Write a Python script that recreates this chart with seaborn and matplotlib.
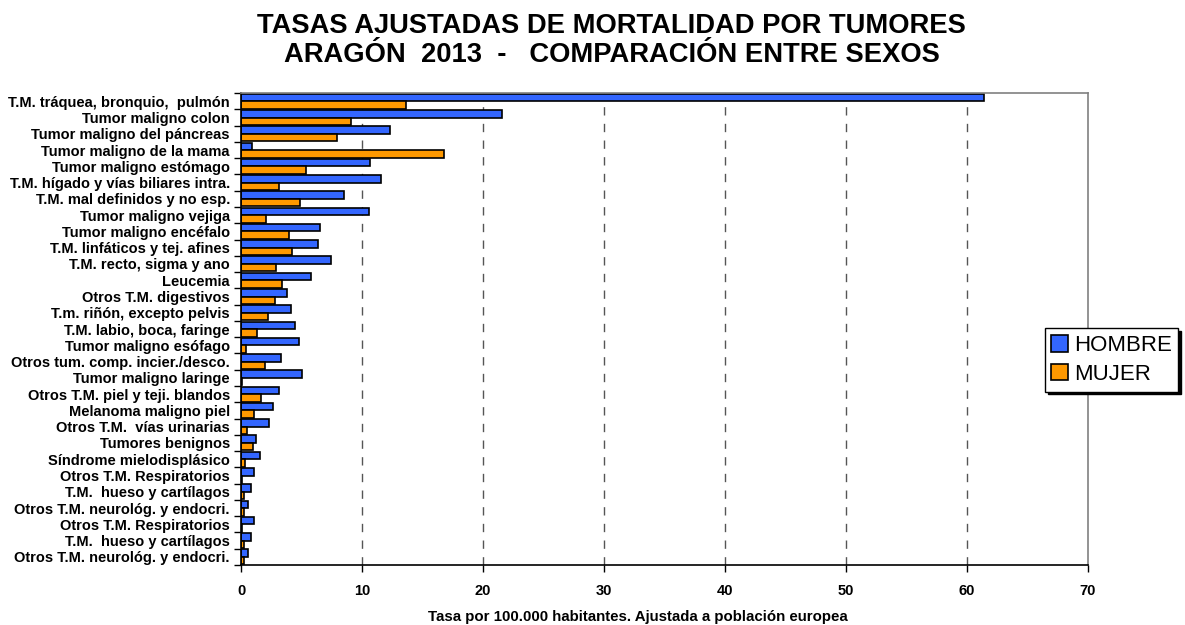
import matplotlib
matplotlib.use("Agg")
import matplotlib.pyplot as plt
import seaborn as sns
import pandas as pd
import numpy as np

causas = [
    "T.M. tráquea, bronquio,  pulmón",
    "Tumor maligno colon",
    "Tumor maligno del páncreas",
    "Tumor maligno de la mama",
    "Tumor maligno estómago",
    "T.M. hígado y vías biliares intra.",
    "T.M. mal definidos y no esp.",
    "Tumor maligno vejiga",
    "Tumor maligno encéfalo",
    "T.M. linfáticos y tej. afines",
    "T.M. recto, sigma y ano",
    "Leucemia",
    "Otros T.M. digestivos",
    "T.m. riñón, excepto pelvis",
    "T.M. labio, boca, faringe",
    "Tumor maligno esófago",
    "Otros tum. comp. incier./desco.",
    "Tumor maligno laringe",
    "Otros T.M. piel y teji. blandos",
    "Melanoma maligno piel",
    "Otros T.M.  vías urinarias",
    "Tumores benignos",
    "Síndrome mielodisplásico",
    "Otros T.M. Respiratorios",
    "T.M.  hueso y cartílagos",
    "Otros T.M. neurológ. y endocri.",
    "Otros T.M. Respiratorios",
    "T.M.  hueso y cartílagos",
    "Otros T.M. neurológ. y endocri.",
]
hombre = [61.4, 21.6, 12.3, 0.9, 10.7, 11.55, 8.5, 10.6, 6.5, 6.4, 7.4, 5.8, 3.8,
          4.1, 4.5, 4.8, 3.3, 5.0, 3.15, 2.65, 2.35, 1.2, 1.6, 1.05, 0.85, 0.6,
          1.05, 0.85, 0.6]
mujer = [13.6, 9.1, 7.9, 16.8, 5.35, 3.1, 4.9, 2.1, 4.0, 4.25, 2.9, 3.4, 2.8,
         2.25, 1.3, 0.45, 2.0, 0.08, 1.65, 1.1, 0.5, 1.0, 0.3, 0.05, 0.22, 0.22,
         0.05, 0.22, 0.22]
sexos = ["HOMBRE", "MUJER"]
colores = ["#3366FF", "#FF9900"]

# long format, index as category because some names repeat
df = pd.DataFrame({
    "pos": list(range(len(causas))) * 2,
    "tasa": hombre + mujer,
    "sexo": ["HOMBRE"] * len(causas) + ["MUJER"] * len(causas),
})

sns.set_style("white")
plt.rcParams["font.family"] = ["Liberation Sans", "DejaVu Sans"]
plt.rcParams["text.color"] = "black"
plt.rcParams["xtick.color"] = "black"
plt.rcParams["ytick.color"] = "black"
plt.rcParams["axes.labelcolor"] = "black"

fig = plt.figure(figsize=(11.85, 6.25), dpi=100)
ax = fig.add_axes([0.2034, 0.096, 0.7146, 0.755])

sns.barplot(data=df, y="pos", x="tasa", hue="sexo", orient="y", order=list(range(len(causas))),
            hue_order=sexos, palette=colores, width=0.92, edgecolor="black",
            linewidth=1.2, saturation=1, legend=False, ax=ax)

ax.set_xlim(0, 70)
ax.set_ylim(len(causas) - 0.5, -0.5)
ax.set_xticks(range(0, 71, 10))
ax.set_xticklabels([str(v) for v in range(0, 71, 10)], fontsize=10.5, fontweight="bold")
ax.set_yticks(range(len(causas)))
ax.set_yticklabels(causas, fontsize=10.5, fontweight="bold")
ax.set_yticks(np.arange(-0.5, len(causas), 1), minor=True)
ax.tick_params(axis="y", which="major", left=True, length=0, pad=8)
ax.tick_params(axis="y", which="minor", left=True, length=5, width=1, color="black", direction="out")
ax.tick_params(axis="x", bottom=True, length=5, width=1, color="black", direction="out", pad=9)
ax.set_ylabel("")
ax.set_xlabel("Tasa por 100.000 habitantes. Ajustada a población europea",
              fontsize=10.8, fontweight="bold")
ax.xaxis.set_label_coords(0.469, -0.095)

for v in range(10, 70, 10):
    ax.axvline(v, color="#555555", linestyle=(0, (6, 6)), linewidth=1, zorder=0)

for s in ["top", "right"]:
    ax.spines[s].set_color("#808080")
    ax.spines[s].set_linewidth(1.2)
for s in ["left", "bottom"]:
    ax.spines[s].set_color("black")
    ax.spines[s].set_linewidth(1.2)

fig.text(0.516, 0.935, "TASAS AJUSTADAS DE MORTALIDAD POR TUMORES\nARAGÓN  2013  -   COMPARACIÓN ENTRE SEXOS",
         ha="center", va="center", fontsize=19.7, fontweight="bold", linespacing=1.15)

handles = [plt.Rectangle((0, 0), 1, 1, facecolor=c, edgecolor="black", linewidth=1.2) for c in colores]
leg = fig.legend(handles, sexos, loc="center", bbox_to_anchor=(0.938, 0.424), fontsize=16,
                 frameon=True, fancybox=False, shadow={"color": "black", "alpha": 1},
                 edgecolor="black", framealpha=1, handlelength=0.75, handleheight=0.75,
                 handletextpad=0.25, borderpad=0.3, labelspacing=0.35, borderaxespad=0)
leg.get_frame().set_linewidth(1)

fig.savefig("out.png", dpi=100)
